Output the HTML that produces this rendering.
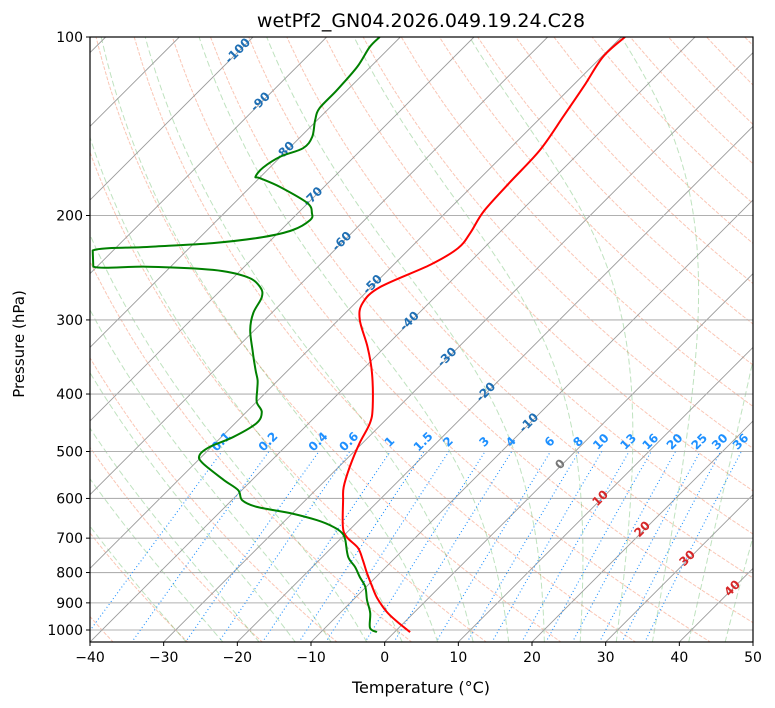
<!DOCTYPE html>
<html><head><meta charset="utf-8"><style>
html,body{margin:0;padding:0;background:#fff;}
svg{display:block;font-family:"DejaVu Sans","Liberation Sans",sans-serif;}
</style></head><body>
<svg id="chart" width="775" height="708" viewBox="0 0 775 708" xmlns="http://www.w3.org/2000/svg">
<defs><clipPath id="clip"><rect x="90" y="37" width="663" height="605"/></clipPath></defs>
<rect x="0" y="0" width="775" height="708" fill="#fff"/>
<text x="421" y="27" text-anchor="middle" font-size="19">wetPf2_GN04.2026.049.19.24.C28</text>
<g id="bg" clip-path="url(#clip)"></g>
<g id="lbls"></g>
<g id="data" clip-path="url(#clip)"></g>
<rect x="90" y="37" width="663" height="605" fill="none" stroke="#000" stroke-width="1.2"/>
<g id="axes"></g>
<text x="421" y="693" text-anchor="middle" font-size="16">Temperature (°C)</text>
<text x="24" y="344" text-anchor="middle" font-size="15" transform="rotate(-90 24 344)">Pressure (hPa)</text>
</svg>
<script>
const tempP=[1008,969,932,883,840,801,762,727,697,670,604,574,531,484,448,421,369,333,300,281,264,242,227,214,197,176,155,136,121,108,100];
const tempT=[2.1,-1.0,-3.8,-7.0,-9.5,-11.8,-14.1,-16.4,-19.4,-21.3,-24.9,-26.6,-28.5,-30.4,-31.7,-33.5,-38.2,-42.4,-47.1,-49.0,-48.8,-45.0,-43.5,-43.9,-45.0,-45.4,-45.7,-47.1,-48.4,-49.8,-49.5];
const dewP=[1008,992,936,890,846,814,783,753,705,686,670,653,635,620,604,581,558,523,507,491,473,448,429,413,394,379,364,337,312,292,274.5,264,254,247,244,244,229,226,222.6,217.5,211.6,203.5,198.1,190.5,179,173,172,166,159,154,147.4,138,131.8,122.8,112.3,104,100];
const dewT=[-2.4,-3.9,-5.9,-8.1,-10.1,-12.2,-14.2,-16.5,-19.2,-20.6,-22.6,-25.7,-30.4,-35.7,-38.6,-40.5,-43.9,-49.0,-50.5,-50.2,-48.4,-47.1,-47.9,-49.9,-51.5,-52.8,-54.5,-57.6,-60.6,-62.5,-63.5,-65.1,-68.2,-73.8,-83.2,-90.5,-92.8,-85.9,-77.5,-71.5,-68.4,-67.4,-68.1,-70.1,-76.0,-79.9,-80.7,-80.9,-80.0,-78.1,-78.4,-80.3,-81.3,-81.4,-81.8,-82.8,-82.8];
const pTicks=[100,200,300,400,500,600,700,800,900,1000];
const tTicks=[-40,-30,-20,-10,0,10,20,30,40,50];
const mixVals=[0.1,0.2,0.4,0.6,1,1.5,2,3,4,6,8,10,13,16,20,25,30,36];
const isoLabelT=[-100,-90,-80,-70,-60,-50,-40,-30,-20,-10];
const isoLabelP=[105,128,155,185,220,260,300,345,395,445];

const NS="http://www.w3.org/2000/svg";
const L=90,R=753,T0=37,B=642,PX=663/90,DEC=593;
function yP(p){return T0+DEC*Math.log10(p/100);}
function xT(t,p){return L+(t+40)*PX+(B-yP(p));}
function mk(tag,attrs,parent){const e=document.createElementNS(NS,tag);for(const k in attrs)e.setAttribute(k,attrs[k]);parent.appendChild(e);return e;}
const bg=document.getElementById('bg'),lbls=document.getElementById('lbls'),dataG=document.getElementById('data'),axes=document.getElementById('axes');
function pts(arrP,arrT){return arrP.map((p,i)=>xT(arrT[i],p).toFixed(1)+','+yP(p).toFixed(1)).join(' ');}
// smooth path via Catmull-Rom, linear on sharp turns
function smooth(arrP,arrT){const P=arrP.map((p,i)=>[xT(arrT[i],p),yP(p)]);let d='M'+P[0][0].toFixed(1)+','+P[0][1].toFixed(1);
for(let i=0;i<P.length-1;i++){const p1=P[i],p2=P[i+1];
if(Math.abs(p2[0]-p1[0])>30&&Math.abs(p2[1]-p1[1])<8||i>0&&Math.abs(P[i-1][0]-p1[0])>30&&Math.abs(P[i-1][1]-p1[1])<8&&Math.abs(p2[1]-p1[1])>8){
const p0=P[Math.max(0,i-1)],p3=P[Math.min(P.length-1,i+2)];
if(Math.abs(p2[0]-p1[0])<30){d+=' L'+p2[0].toFixed(1)+','+p2[1].toFixed(1);continue;}}
const p0=P[Math.max(0,i-1)],p3=P[Math.min(P.length-1,i+2)];
const c1=[p1[0]+(p2[0]-p0[0])/6,p1[1]+(p2[1]-p0[1])/6],c2=[p2[0]-(p3[0]-p1[0])/6,p2[1]-(p3[1]-p1[1])/6];
const lo=Math.min(p1[0],p2[0])-3,hi=Math.max(p1[0],p2[0])+3;c1[0]=Math.max(lo,Math.min(hi,c1[0]));c2[0]=Math.max(lo,Math.min(hi,c2[0]));
d+=' C'+c1.map(v=>v.toFixed(1)).join(',')+' '+c2.map(v=>v.toFixed(1)).join(',')+' '+p2.map(v=>v.toFixed(1)).join(',');}return d;}

// dry adiabats
for(let th=-40;th<=220;th+=10){const ps=[],ts=[];for(let p=1050;p>=100;p-=10){ps.push(p);ts.push((th+273.15)*Math.pow(p/1000,0.2857)-273.15);}
const e=mk('polyline',{points:pts(ps,ts),fill:'none',stroke:'#f4805c','stroke-opacity':'0.45','stroke-width':'1','stroke-dasharray':'3.7,1.6'},bg);
}
// moist adiabats
function es(tc){return 6.112*Math.exp(17.67*tc/(tc+243.5));}
function dTdp(tk,p){const e=es(tk-273.15),rs=0.622*e/(p-e),Rd=287.04,Lv=2.501e6,Cp=1005.7;return (Rd*tk+Lv*rs)/(Cp+Lv*Lv*rs*0.622/(Rd*tk*tk))/p;}
for(let t0=-30;t0<=45;t0+=5){let tk=t0+273.15;let ps=[1050],ts=[];
let tt=tk;for(let p=1000;p<1050;p+=5){tt+=dTdp(tt,p)*5;} ts.push(tt-273.15);
for(let p=1000;p>=100;p-=5){if(p<1000){tk-=dTdp(tk,p+5)*5;} ps.push(p);ts.push(tk-273.15);}
ps=ps.slice(0,ts.length);
const e=mk('polyline',{points:pts(ps,ts),fill:'none',stroke:'#2ca02c','stroke-opacity':'0.3','stroke-width':'1','stroke-dasharray':'6,3'},bg);
}
// isotherms
for(let t=-130;t<=50;t+=10){const e=mk('line',{x1:xT(t,1050),y1:yP(1050),x2:xT(t,100),y2:yP(100),stroke:'#9a9a9a','stroke-width':'0.9'},bg);
}
// horizontal grid
pTicks.forEach(p=>{const e=mk('line',{x1:L,y1:yP(p),x2:R,y2:yP(p),stroke:'#b0b0b0','stroke-width':'1.1'},bg);
});
// mixing ratio lines
function tdFromW(w,p){const ww=w/1000,e=p*ww/(0.622+ww),l=Math.log(e/6.112);return 243.5*l/(17.67-l);}
mixVals.forEach(w=>{const ps=[],ts=[];for(let p=1050;p>=500;p-=10){ps.push(p);ts.push(tdFromW(w,p));}
const e=mk('polyline',{points:pts(ps,ts),fill:'none',stroke:'#1e90ff','stroke-width':'1.1','stroke-dasharray':'1,2.6'},bg);

const x=xT(tdFromW(w,500),500)+2,y=yP(500)-7;
const t=mk('text',{x:x,y:y,'font-size':'12','font-weight':'bold',fill:'#1e90ff','text-anchor':'middle',transform:`rotate(-45 ${x} ${y})`},lbls);
t.textContent=String(w);});
// isotherm labels
isoLabelT.forEach((tv,i)=>{const x=xT(tv,isoLabelP[i]),y=yP(isoLabelP[i])+4;
const t=mk('text',{x:x,y:y,'font-size':'12','font-weight':'bold',fill:'#1f6fb4','text-anchor':'middle',transform:`rotate(-45 ${x} ${y})`},lbls);
t.textContent=String(tv);});
[[0,563,467,'#777'],[10,603,501,'#d62728'],[20,645,532,'#d62728'],[30,690,561,'#d62728'],[40,735,591,'#d62728']].forEach(a=>{
const t=mk('text',{x:a[1],y:a[2],'font-size':'12','font-weight':'bold',fill:a[3],'text-anchor':'middle',transform:`rotate(-45 ${a[1]} ${a[2]})`},lbls);
t.textContent=String(a[0]);});
// profiles
const tl=mk('path',{d:smooth(tempP,tempT),fill:'none',stroke:'#ff0000','stroke-width':'2','stroke-linejoin':'round'},dataG);

const dl=mk('path',{d:smooth(dewP,dewT),fill:'none',stroke:'#008000','stroke-width':'2','stroke-linejoin':'round'},dataG);

// axes ticks
pTicks.forEach(p=>{const y=yP(p);mk('line',{x1:L-4,y1:y,x2:L,y2:y,stroke:'#000'},axes);
const t=mk('text',{x:L-7,y:y+5,'font-size':'14','text-anchor':'end'},axes);t.textContent=String(p);
});
tTicks.forEach(tv=>{const x=L+(tv+40)*PX;mk('line',{x1:x,y1:B,x2:x,y2:B+4,stroke:'#000'},axes);
const t=mk('text',{x:x,y:B+20,'font-size':'14','text-anchor':'middle'},axes);t.textContent=tv<0?'\u2212'+Math.abs(tv):String(tv);
});
</script>
</body></html>
